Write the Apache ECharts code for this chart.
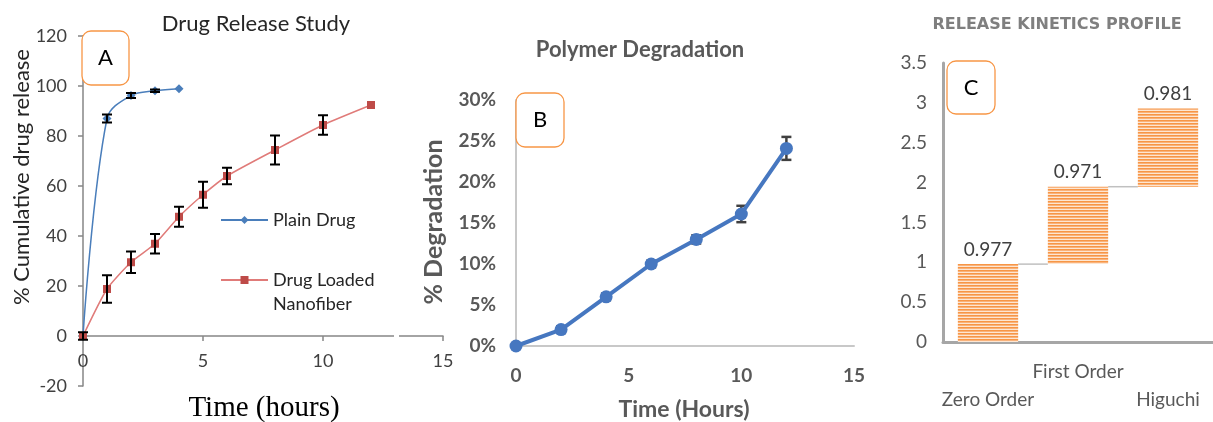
<!DOCTYPE html>
<html><head><meta charset="utf-8">
<script src="https://cdn.jsdelivr.net/npm/echarts@6/dist/echarts.min.js"></script>
<style>html,body{margin:0;padding:0;background:#fff}#c{width:1213px;height:422px}</style>
</head><body><div id="c"></div>
<script>
// ---- Panel A: drug release ----
const plainHours = [0, 1, 2, 3, 4];
const plainRelease = [0, 87, 96.2, 98.1, 98.9];
const plainErr = [0, 1.6, 1, 0.5, 0];
const loadedHours = [0, 1, 2, 3, 4, 5, 6, 8, 10, 12];
const loadedRelease = [0, 18.8, 29.5, 36.9, 47.7, 56.5, 64, 74.4, 84.4, 92.4];
const loadedErr = [1.5, 5.5, 4.3, 3.9, 4, 5.2, 3.3, 5.8, 3.9, 0];
const axisA_x = [0, 15, 5];     // min, max, interval
const axisA_y = [-20, 120, 20];
// ---- Panel B: polymer degradation ----
const degHours = [0, 2, 4, 6, 8, 10, 12];
const degPercent = [0, 2, 6, 10, 13, 16.1, 24.1];
const degErr = [0.3, 0.4, 0.4, 0.4, 0.5, 1, 1.4];
const axisB_x = [0, 15, 5];
const axisB_y = [0, 30, 5];
// ---- Panel C: release kinetics (R²) ----
const models = ['Zero Order', 'First Order', 'Higuchi'];
const r2 = [0.977, 0.971, 0.981];
const axisC_y = [0, 3.5, 0.5];

const bases = []; const tops = [];
r2.reduce((acc, v) => { bases.push(acc); tops.push(acc + v); return acc + v; }, 0);

const pc = document.createElement('canvas'); pc.width = 4; pc.height = 3;
const g = pc.getContext('2d');
g.fillStyle = '#FDE6D2'; g.fillRect(0, 0, 4, 3);
g.fillStyle = '#F79646'; g.fillRect(0, 0, 4, 1);
g.fillStyle = '#F9B27A'; g.fillRect(0, 1, 4, 1);

function errorSeries(xs, ys, errs, idx, color, capHalf, lw, z) {
  return {
    type: 'custom', xAxisIndex: idx, yAxisIndex: idx, silent: true, z: z,
    data: xs.map((x, i) => [x, ys[i] - errs[i], ys[i] + errs[i]]).filter((d, i) => errs[i] > 0),
    encode: { x: 0, y: [1, 2] },
    renderItem(params, api) {
      const x = api.value(0);
      const lo = api.coord([x, api.value(1)]);
      const hi = api.coord([x, api.value(2)]);
      const s = { stroke: color, lineWidth: lw };
      return { type: 'group', children: [
        { type: 'line', shape: { x1: lo[0], y1: lo[1], x2: hi[0], y2: hi[1] }, style: s },
        { type: 'line', shape: { x1: lo[0] - capHalf, y1: lo[1], x2: lo[0] + capHalf, y2: lo[1] }, style: s },
        { type: 'line', shape: { x1: hi[0] - capHalf, y1: hi[1], x2: hi[0] + capHalf, y2: hi[1] }, style: s }
      ] };
    }
  };
}

const F = 'Lato, "Open Sans", sans-serif';
const chart = echarts.init(document.getElementById('c'), null, { renderer: 'canvas' });

function boxA(x, y, w, h, letter) {
  return [
    { type: 'rect', z: 100, shape: { x: x, y: y, width: w, height: h, r: 9 },
      style: { fill: '#fff', stroke: '#F79646', lineWidth: 1.3 } },
    { type: 'text', z: 101, x: x + w / 2, y: y + h / 2,
      style: { text: letter, font: '22px ' + F, fill: '#000', textAlign: 'center', textVerticalAlign: 'middle' } }
  ];
}

const option = {
  animation: false,
  backgroundColor: '#fff',
  grid: [
    { left: 83, top: 36, width: 360, height: 350 },
    { left: 516, top: 100, width: 338, height: 246 },
    { left: 943, top: 63, width: 270, height: 279 }
  ],
  xAxis: [
    { gridIndex: 0, type: 'value', min: axisA_x[0], max: axisA_x[1], interval: axisA_x[2],
      offset: -50,
      axisLine: { onZero: false, lineStyle: { color: '#868686', width: 1.5 } },
      axisTick: { show: true, length: 5, lineStyle: { color: '#868686', width: 1.5 } },
      axisLabel: { margin: 16, color: '#404040', fontSize: 18, fontFamily: F },
      splitLine: { show: false } },
    { gridIndex: 1, type: 'value', min: axisB_x[0], max: axisB_x[1], interval: axisB_x[2],
      axisLine: { onZero: true, lineStyle: { color: '#c8c8c8', width: 2 } },
      axisTick: { show: false },
      axisLabel: { margin: 20, color: '#595959', fontSize: 19, fontWeight: 'bold', fontFamily: F },
      splitLine: { show: false } },
    { gridIndex: 2, type: 'category', data: models,
      axisLine: { lineStyle: { color: '#a6a6a6', width: 3 } },
      axisTick: { show: false },
      axisLabel: { interval: 0, margin: 16, color: '#595959', fontSize: 19, fontFamily: F, lineHeight: 28,
        formatter: (v, i) => (i === 1 ? v : '\n' + v) } }
  ],
  yAxis: [
    { gridIndex: 0, type: 'value', min: axisA_y[0], max: axisA_y[1], interval: axisA_y[2],
      axisLine: { show: true, lineStyle: { color: '#868686', width: 1.5 } },
      axisTick: { show: true, length: 5, lineStyle: { color: '#868686', width: 1.5 } },
      axisLabel: { margin: 16, color: '#404040', fontSize: 18, fontFamily: F },
      splitLine: { show: false } },
    { gridIndex: 1, type: 'value', min: axisB_y[0], max: axisB_y[1], interval: axisB_y[2],
      axisLine: { show: true, lineStyle: { color: '#c8c8c8', width: 2 } },
      axisTick: { show: false },
      axisLabel: { margin: 20, color: '#595959', fontSize: 19, fontWeight: 'bold', fontFamily: F,
        formatter: v => v + '%' },
      splitLine: { show: false } },
    { gridIndex: 2, type: 'value', min: axisC_y[0], max: axisC_y[1], interval: axisC_y[2],
      axisLine: { show: true, lineStyle: { color: '#a6a6a6', width: 3 } },
      axisTick: { show: false },
      axisLabel: { margin: 16, color: '#595959', fontSize: 19, fontFamily: F },
      splitLine: { show: false } }
  ],
  legend: [
    { data: ['Plain Drug'], left: 220, top: 211, itemWidth: 47, itemHeight: 10, itemGap: 0, padding: 0,
      textStyle: { fontSize: 18, fontFamily: F, color: '#262626' } },
    { data: ['Drug Loaded Nanofiber'], left: 220, top: 244, itemWidth: 47, itemHeight: 10, padding: 0,
      formatter: () => ' \nDrug Loaded\nNanofiber',
      textStyle: { fontSize: 18, lineHeight: 24, fontFamily: F, color: '#262626' } }
  ],
  series: [
    { name: 'Plain Drug', type: 'line', xAxisIndex: 0, yAxisIndex: 0, smooth: 0.35,
      data: plainHours.map((x, i) => [x, plainRelease[i]]),
      symbol: 'diamond', symbolSize: 9,
      lineStyle: { color: '#4A7EBB', width: 1.5 }, itemStyle: { color: '#4A7EBB' }, z: 3 },
    { name: 'Drug Loaded Nanofiber', type: 'line', xAxisIndex: 0, yAxisIndex: 0, smooth: 0.2,
      data: loadedHours.map((x, i) => [x, loadedRelease[i]]),
      symbol: 'rect', symbolSize: 8,
      lineStyle: { color: '#E07B79', width: 1.5 }, itemStyle: { color: '#BE4B48' }, z: 4 },
    errorSeries(plainHours, plainRelease, plainErr, 0, '#000', 5, 2, 6),
    errorSeries(loadedHours, loadedRelease, loadedErr, 0, '#000', 5, 2, 6),
    errorSeries(degHours, degPercent, degErr, 1, '#404040', 5, 2.5, 2),
    { name: 'Degradation', type: 'line', xAxisIndex: 1, yAxisIndex: 1,
      data: degHours.map((x, i) => [x, degPercent[i]]),
      symbol: 'circle', symbolSize: 13,
      lineStyle: { color: '#4677C0', width: 4 }, itemStyle: { color: '#4677C0' }, z: 3 },
    { name: 'base', type: 'bar', xAxisIndex: 2, yAxisIndex: 2, stack: 'w', data: bases,
      itemStyle: { color: 'transparent' }, barCategoryGap: '33%', silent: true },
    { name: 'R2', type: 'bar', xAxisIndex: 2, yAxisIndex: 2, stack: 'w', data: r2,
      itemStyle: { color: { image: pc, repeat: 'repeat' } },
      label: { show: true, position: 'top', distance: 5, fontSize: 19, fontFamily: F, color: '#404040',
        formatter: p => p.value.toFixed(3) } },
    { type: 'custom', xAxisIndex: 2, yAxisIndex: 2, silent: true,
      data: tops.slice(0, -1).map((t, i) => [i, t]),
      renderItem(params, api) {
        const i = api.value(0), t = api.value(1);
        const p = api.coord([i, t]), q = api.coord([i + 1, t]);
        const bw = api.size([1, 0])[0] * 0.67;
        return { type: 'line', shape: { x1: p[0] + bw / 2, y1: p[1], x2: q[0] - bw / 2, y2: p[1] },
          style: { stroke: '#c0c0c0', lineWidth: 1.5 } };
      } }
  ],
  graphic: [
    { type: 'rect', z: 50, shape: { x: 394, y: 325, width: 5, height: 25 }, style: { fill: '#fff' } },
    { type: 'text', x: 256, y: 24, style: { text: 'Drug Release Study', font: '22px ' + F, fill: '#262626', textAlign: 'center', textVerticalAlign: 'middle' } },
    { type: 'text', x: 640, y: 50, style: { text: 'Polymer Degradation', font: 'bold 22px ' + F, fill: '#595959', textAlign: 'center', textVerticalAlign: 'middle' } },
    { type: 'text', x: 1057, y: 25, style: { text: 'RELEASE KINETICS PROFILE', font: 'bold 16px "DejaVu Sans", sans-serif', fill: '#7f7f7f', textAlign: 'center', textVerticalAlign: 'middle' } },
    { type: 'text', x: 22, y: 177, rotation: Math.PI / 2, style: { text: '% Cumulative drug release', font: '22px ' + F, fill: '#262626', textAlign: 'center', textVerticalAlign: 'middle' } },
    { type: 'text', x: 264, y: 408, style: { text: 'Time (hours)', font: '29px "Liberation Serif", serif', fill: '#000', textAlign: 'center', textVerticalAlign: 'middle' } },
    { type: 'text', x: 434, y: 222, rotation: Math.PI / 2, style: { text: '% Degradation', font: 'bold 25px ' + F, fill: '#595959', textAlign: 'center', textVerticalAlign: 'middle' } },
    { type: 'text', x: 684, y: 410, style: { text: 'Time (Hours)', font: 'bold 23px ' + F, fill: '#595959', textAlign: 'center', textVerticalAlign: 'middle' } }
  ].concat(boxA(82, 31, 47, 54, 'A'), boxA(516, 93, 48, 54, 'B'), boxA(947, 61, 48, 53, 'C'))
};
chart.setOption(option);
</script>
</body></html>
